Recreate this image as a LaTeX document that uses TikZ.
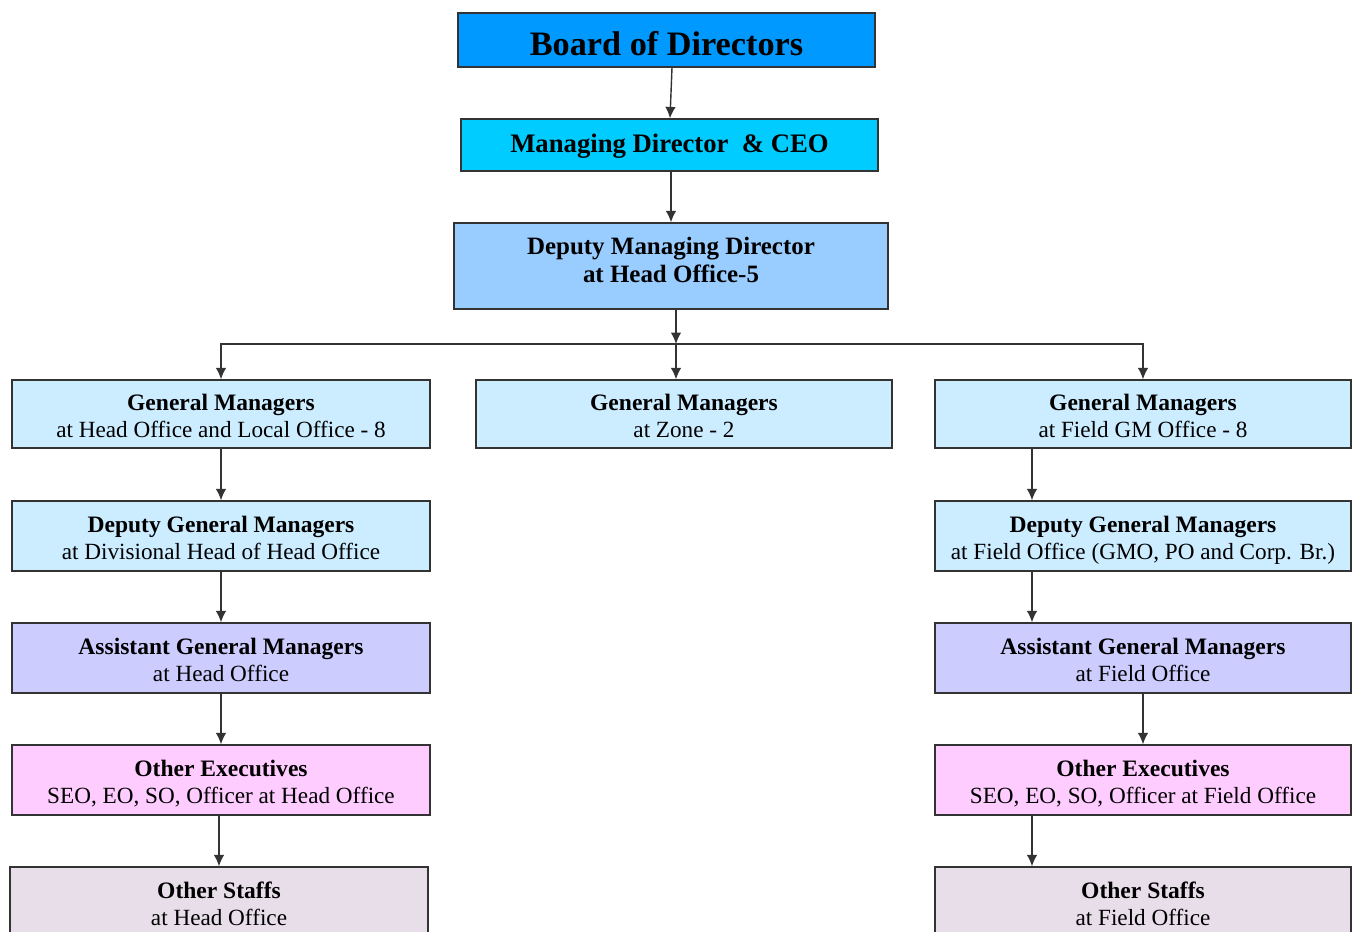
\documentclass[tikz,border=0pt]{standalone}
\usepackage{fontspec}
\setmainfont{Liberation Serif}
\usepackage{xcolor}
\usetikzlibrary{positioning,calc,arrows.meta}
\definecolor{boardblue}{HTML}{0099FF}
\definecolor{ceocyan}{HTML}{00CCFF}
\definecolor{deputyblue}{HTML}{99CCFF}
\definecolor{gmblue}{HTML}{CCECFF}
\definecolor{agmlilac}{HTML}{CCCCFF}
\definecolor{execpink}{HTML}{FFCCFF}
\definecolor{staffgrey}{HTML}{E8DEEA}
\newcommand{\rank}[2]{{\fontsize{13.4}{15.3}\selectfont\bfseries #1}\\{#2}}

\begin{document}
\begin{tikzpicture}[x=0.02cm,y=-0.02cm]
\tikzset{>={Latex[length=6.5pt,width=6pt]}}
\tikzset{post/.style={draw=black!80,line width=0.8pt,align=center,inner sep=0pt,
  font=\fontsize{13.2}{15.3}\selectfont,minimum width=8.36cm,minimum height=1.4cm}}
\tikzset{tier/.style={post,text height=27pt,text depth=0pt}}
\tikzset{link/.style={->,draw=black!80,line width=0.8pt}}

\useasboundingbox (0,0) rectangle (1357,931);
\clip (0,0) rectangle (1357,931);

% top of the chart
\node[post,fill=boardblue,minimum width=8.34cm,minimum height=1.08cm,text height=18pt,
  font=\fontsize{19.5}{22}\selectfont\bfseries] (board) at (666.5,40) {Board of Directors};
\node[post,fill=ceocyan,minimum width=8.34cm,minimum height=1.04cm,text height=11pt,text depth=3pt,
  font=\fontsize{15.2}{18}\selectfont\bfseries] (ceo) at (669.5,145) {Managing Director~~\& CEO};
\node[post,fill=deputyblue,minimum width=8.68cm,minimum height=1.72cm,text depth=7pt,
  font=\fontsize{14.2}{16.4}\selectfont\bfseries] (dmd) at (671,266) {Deputy Managing Director\\at Head Office-5};

\draw[link] ([xshift=0.11cm]board.south) -- ([xshift=0.01cm]ceo.north);
\draw[link] (ceo.south -| dmd.north) -- (dmd.north);

\coordinate (split) at (676,344);
\coordinate (colR) at (1032,0);

% general managers
\node[tier,fill=gmblue,minimum height=1.36cm] (gmL) at (221,414)
  {\rank{General Managers}{at Head Office and Local Office - 8}};
\node[tier,fill=gmblue,minimum width=8.32cm,minimum height=1.36cm] (gmM) at (684,414)
  {\rank{General Managers}{at Zone - 2}};
\node[tier,fill=gmblue,minimum width=8.32cm,minimum height=1.36cm] (gmR) at (1143,414)
  {\rank{General Managers}{at Field GM Office - 8}};

\draw[link] (dmd.south -| split) -- (split);
\draw[link] (split) -- (gmM.north -| split);
\draw[link] (split) -| (gmL.north);
\draw[link] (split) -| (gmR.north);

% head office column
\node[tier,fill=gmblue] (dgmL) at (221,536)
  {\rank{Deputy General Managers}{at Divisional Head of Head Office}};
\node[tier,fill=agmlilac] (agmL) at (221,658)
  {\rank{Assistant General Managers}{at Head Office}};
\node[tier,fill=execpink] (oeL) at (221,780)
  {\rank{Other Executives}{SEO, EO, SO, Officer at Head Office}};
\node[tier,fill=staffgrey] (osL) at (219,902)
  {\rank{Other Staffs}{at Head Office}};

\draw[link] (gmL.south) -- (dgmL.north);
\draw[link] (dgmL.south) -- (agmL.north);
\draw[link] (agmL.south) -- (oeL.north);
\draw[link] (oeL.south -| osL.north) -- (osL.north);

% field office column
\node[tier,fill=gmblue,minimum width=8.32cm] (dgmR) at (1143,536)
  {\rank{Deputy General Managers}{at Field Office (GMO, PO and Corp. Br.)}};
\node[tier,fill=agmlilac,minimum width=8.32cm] (agmR) at (1143,658)
  {\rank{Assistant General Managers}{at Field Office}};
\node[tier,fill=execpink,minimum width=8.32cm] (oeR) at (1143,780)
  {\rank{Other Executives}{SEO, EO, SO, Officer at Field Office}};
\node[tier,fill=staffgrey,minimum width=8.32cm] (osR) at (1143,902)
  {\rank{Other Staffs}{at Field Office}};

\draw[link] (gmR.south -| colR) -- (dgmR.north -| colR);
\draw[link] (dgmR.south -| colR) -- (agmR.north -| colR);
\draw[link] (agmR.south) -- (oeR.north);
\draw[link] (oeR.south -| colR) -- (osR.north -| colR);
\end{tikzpicture}
\end{document}
